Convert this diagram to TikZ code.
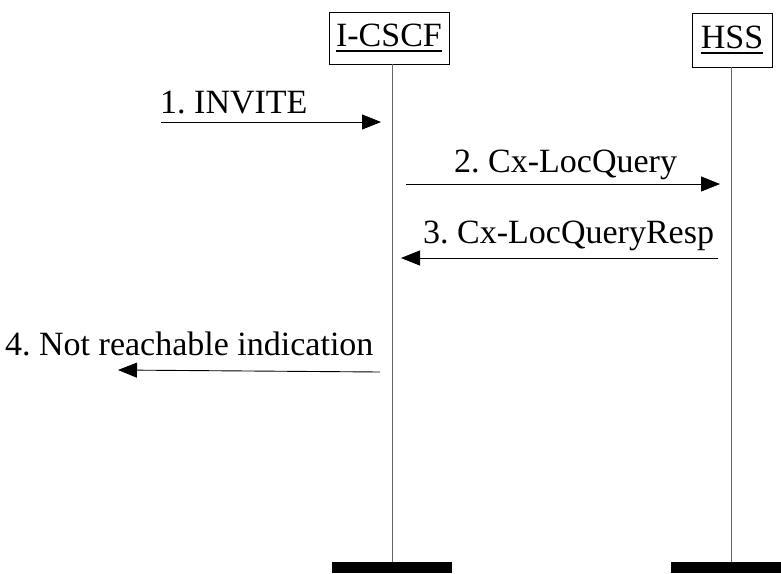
\documentclass[tikz,border=0pt]{standalone}
\usepackage{fontspec}
\setmainfont{Liberation Serif}
\usetikzlibrary{arrows.meta}
\frenchspacing
\newcommand{\thickul}[1]{\setbox0\hbox{#1}\leavevmode\rlap{\raisebox{-5.5pt}{\rule{\wd0}{2.4pt}}}\box0}
\begin{document}
\begin{tikzpicture}[x=1pt,y=-1pt,
  lbl/.style={font=\fontsize{34}{40}\selectfont, inner sep=0pt, anchor=base west},
  entity/.style={draw, line width=0.8pt, font=\fontsize{34}{40}\selectfont, inner sep=0pt},
  life/.style={draw=black!60, line width=1pt},
  msg/.style={line width=0.9pt, -{Triangle[length=19pt,width=15pt]}},
  bar/.style={fill=black, draw=none, minimum width=120pt, minimum height=11pt, inner sep=0pt}]
\useasboundingbox (0,0) rectangle (781,573);
% entities
\node[entity, minimum width=120pt, minimum height=52pt] (icscf) at (389,38) {\thickul{I-CSCF}};
\node[entity, minimum width=80pt, minimum height=54pt] (hss) at (732,40) {\thickul{HSS}};
% bars
\node[bar] (ibar) at (392,567.5) {};
\node[bar] (hbar) at (731,567.5) {};
% lifelines
\draw[life] (icscf.south -| ibar.north) -- (ibar.north);
\draw[life] (hss.south -| hbar.north) -- (hbar.north);
% message endpoints
\coordinate (m1s) at (161,122);
\coordinate (m1e) at (381,122);
\coordinate (m2s) at (406,184);
\coordinate (m2e) at (720,184);
\coordinate (m3s) at (718,258);
\coordinate (m3e) at (401,258);
\coordinate (m4s) at (380,372);
\coordinate (m4e) at (118,370);
% messages
\draw[msg] (m1s) -- (m1e);
\draw[msg] (m2s) -- (m2e);
\draw[msg] (m3s) -- (m3e);
\draw[msg] (m4s) -- (m4e);
% labels
\node[lbl] (l1) at (160,113) {1. INVITE};
\node[lbl] (l2) at (454,172) {2. Cx-LocQuery};
\node[lbl] (l3) at (423,243) {3. Cx-LocQueryResp};
\node[lbl] (l4) at (5,355) {4. Not reachable indication};
\end{tikzpicture}
\end{document}
